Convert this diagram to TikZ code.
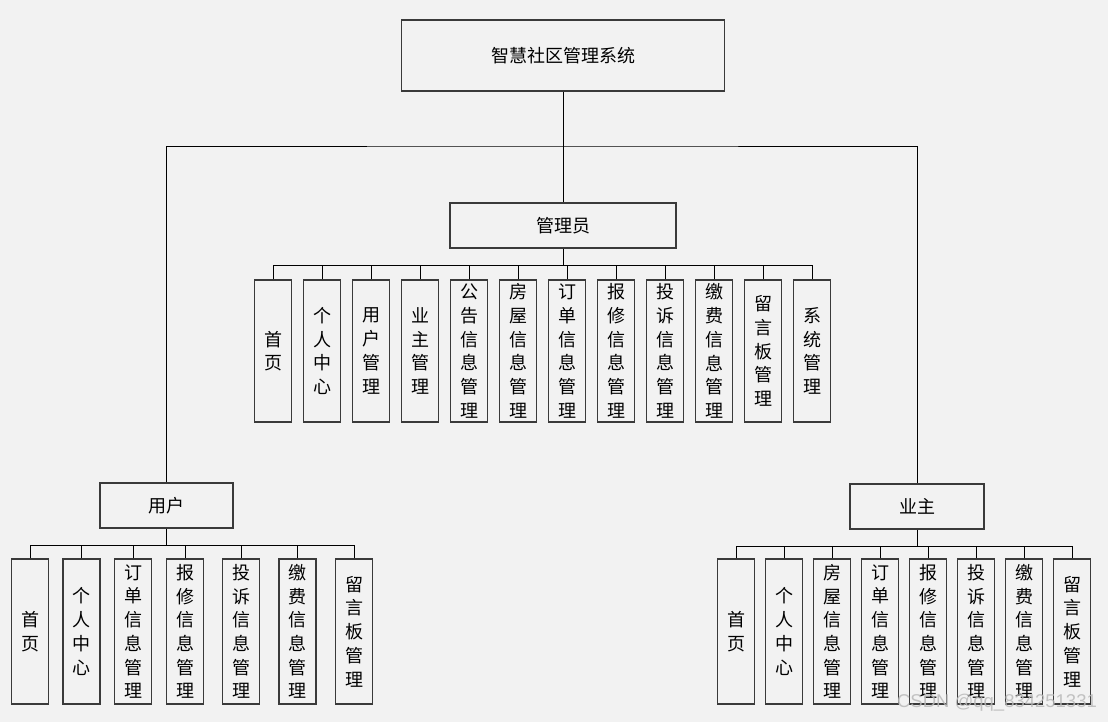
\documentclass[tikz,border=0pt]{standalone}
\usepackage{fontspec}
\setmainfont{Noto Sans CJK SC}
\newfontfamily\wmfont{Liberation Sans}
\definecolor{bgc}{HTML}{F2F2F2}
\definecolor{edge}{HTML}{3A3A3A}
\begin{document}
\begin{tikzpicture}[x=1pt,y=-1pt,
  box/.style={draw=edge, line width=1.1pt, fill=bgc, rectangle, inner sep=0pt, font=\fontsize{18}{22}\selectfont},
  vbox/.style={box, minimum width=37pt, align=center, font=\fontsize{18}{23.7}\selectfont},
  link/.style={draw=black, line width=0.9pt}]
\fill[bgc] (0,0) rectangle (1108,722);
\useasboundingbox (0,0) rectangle (1108,722);

% top level
\node[box, minimum width=323pt, minimum height=71pt] (root) at (563,55.5) {智慧社区管理系统};
\node[box, minimum width=226pt, minimum height=45pt] (admin) at (563,225.5) {管理员};
\node[box, minimum width=133pt, minimum height=45pt] (user) at (166.5,505.5) {用户};
\node[box, minimum width=134pt, minimum height=45pt] (owner) at (917,506.5) {业主};

\coordinate (j) at (563,146);
\draw[link] (root.south) -- (admin.north);
\draw[link] (user.north) |- (j) -| (owner.north);

% admin children
\coordinate (abus) at (563,265);
\draw[link] (admin.south) -- (abus);
\foreach \i/\x/\t in {1/273/首\\页, 2/322/个\\人\\中\\心, 3/371/用\\户\\管\\理, 4/420/业\\主\\管\\理,
  5/469/公\\告\\信\\息\\管\\理, 6/518/房\\屋\\信\\息\\管\\理, 7/567/订\\单\\信\\息\\管\\理,
  8/616/报\\修\\信\\息\\管\\理, 9/665/投\\诉\\信\\息\\管\\理, 10/714/缴\\费\\信\\息\\管\\理,
  11/763/留\\言\\板\\管\\理, 12/812/系\\统\\管\\理} {
  \node[vbox, minimum height=142pt] (a\i) at (\x,351) {\t};
  \draw[link] (a\i.north) |- (abus);
}

% user children
\coordinate (ubus) at (166.5,545.5);
\draw[link] (user.south) -- (ubus);
\foreach \i/\x/\t in {1/30/首\\页, 2/81.5/个\\人\\中\\心, 3/133/订\\单\\信\\息\\管\\理,
  4/185/报\\修\\信\\息\\管\\理, 5/241/投\\诉\\信\\息\\管\\理, 6/297.5/缴\\费\\信\\息\\管\\理,
  7/354/留\\言\\板\\管\\理} {
  \node[vbox, minimum height=145pt] (u\i) at (\x,631.5) {\t};
  \draw[link] (u\i.north) |- (ubus);
}

% owner children
\coordinate (obus) at (917,546.5);
\draw[link] (owner.south) -- (obus);
\foreach \i/\x/\t in {1/736/首\\页, 2/784/个\\人\\中\\心, 3/832/房\\屋\\信\\息\\管\\理,
  4/880/订\\单\\信\\息\\管\\理, 5/928/报\\修\\信\\息\\管\\理, 6/976/投\\诉\\信\\息\\管\\理,
  7/1024/缴\\费\\信\\息\\管\\理, 8/1072/留\\言\\板\\管\\理} {
  \node[vbox, minimum height=145pt] (o\i) at (\x,631.5) {\t};
  \draw[link] (o\i.north) |- (obus);
}

% watermark
\node[text=gray!55, opacity=0.85, font=\wmfont\fontsize{18.5}{20}\selectfont, inner sep=0pt] (wm) at (997,703) {CSDN @qq\_834251331};
\end{tikzpicture}
\end{document}
